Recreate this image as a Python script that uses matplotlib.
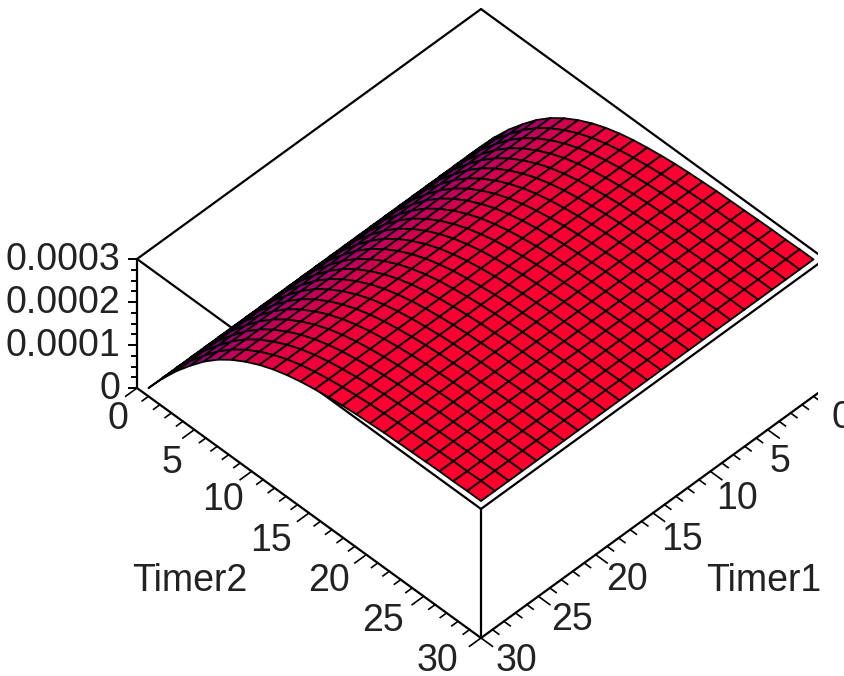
import matplotlib
matplotlib.use("Agg")
import matplotlib.pyplot as plt
from mpl_toolkits.mplot3d import proj3d
import numpy as np

plt.rcParams['font.family'] = ['Liberation Sans Narrow', 'Liberation Sans', 'DejaVu Sans']

# height of the surface along Timer2, it does not change along Timer1
timer_grid = [0.5, 1.71, 2.92, 4.13, 5.33, 6.54, 7.75, 8.96, 10.17, 11.38, 12.58, 13.79, 15.0,
              16.21, 17.42, 18.63, 19.83, 21.04, 22.25, 23.46, 24.67, 25.88, 27.08, 28.29, 29.5]
height = [0.0, 0.45, 0.86, 1.22, 1.55, 1.83, 2.06, 2.25, 2.41, 2.54, 2.64, 2.72, 2.78,
          2.83, 2.87, 2.90, 2.92, 2.94, 2.95, 2.96, 2.97, 2.98, 2.98, 2.99, 2.99]
timer_ticks = [0, 5, 10, 15, 20, 25, 30]
z_ticks = [0, 0.0001, 0.0002, 0.0003]
z_labels = ['0', '0.0001', '0.0002', '0.0003']

# label offsets from the tick on the axis, in pixels
timer2_shift = [(-19, 31), (-22, 33), (-29, 29), (-38, 28), (-37, 26), (-41, 25), (-44, 23)]
timer1_shift = [(17, 30), (12, 32), (27, 28), (29, 27), (31, 25), (34, 24), (35, 23)]

W, H = 844, 676
ZTOP = 0.0003
flat = np.array([255, 0, 45]) / 255
steep = np.array([105, 0, 150]) / 255

fig = plt.figure(figsize=(W / 100, H / 100), dpi=100)
ax = fig.add_axes([0, 0, 1, 1], projection='3d', proj_type='ortho', computed_zorder=False)
ax.view_init(elev=46.6, azim=45)
ax.set_box_aspect((1, 1, 0.386))
ax.set_xlim(0, 30)
ax.set_ylim(0, 30)
ax.set_zlim(0, ZTOP)
ax.set_axis_off()


def to_px(x, y, z):
    xs, ys, _ = proj3d.proj_transform(x, y, z, ax.get_proj())
    px, py = ax.transData.transform((xs, ys))
    return px, H - py


# fit the box to the place it has in the picture
side = 800
ax.set_position([0, 0, side / W, side / H])
fig.canvas.draw()
left = to_px(30, 0, ZTOP)
right = to_px(0, 30, ZTOP)
side = side * 688 / (right[0] - left[0])
ax.set_position([0, 0, side / W, side / H])
fig.canvas.draw()
left = to_px(30, 0, ZTOP)
right = to_px(0, 30, ZTOP)
dx = 481 - (left[0] + right[0]) / 2
dy = 259 - (left[1] + right[1]) / 2
ax.set_position([dx / W, -dy / H, side / W, side / H])
fig.canvas.draw()

box = dict(color='black', lw=1.6, zorder=1, solid_capstyle='round')
for a, b in [((30, 0), (0, 0)), ((0, 0), (0, 30)), ((0, 30), (30, 30)), ((30, 30), (30, 0))]:
    ax.plot([a[0], b[0]], [a[1], b[1]], [ZTOP, ZTOP], **box)
for c in [(30, 0), (0, 30), (30, 30)]:
    ax.plot([c[0], c[0]], [c[1], c[1]], [0, ZTOP], **box)
ax.plot([30, 30], [0, 30], [0, 0], **box)
ax.plot([0, 30], [30, 30], [0, 0], **box)

# ticks on the two floor axes and on the height axis
for t in range(0, 31):
    ln = 1.0 if t % 5 == 0 else 0.55
    ax.plot([30, 30 + ln], [t, t], [0, 0], color='black', lw=1.2, zorder=1)
    ax.plot([t, t], [30, 30 + ln], [0, 0], color='black', lw=1.2, zorder=1)
for z in np.linspace(0, ZTOP, 13):
    ln = 0.36 if round(z / ZTOP * 12) % 4 == 0 else 0.2
    ax.plot([30, 30 + ln], [0, -ln], [z, z], color='black', lw=1.4, zorder=1)

# surface
T = np.array(timer_grid)
Z = np.array(height) * 1e-4
X, Y = np.meshgrid(T, T, indexing='ij')
ZZ = np.tile(Z, (len(T), 1))
slope = np.diff(Z) / np.diff(Z).max()
colors = np.zeros((len(T) - 1, len(T) - 1, 3))
for j, s in enumerate(slope):
    colors[:, j] = flat + (steep - flat) * s ** 1.3
ax.plot_surface(X, Y, ZZ, rstride=1, cstride=1, facecolors=colors, shade=False,
                edgecolor='black', linewidth=1.3, antialiased=True, zorder=2)

# text
fs = 27


def label(x, y, z, sx, sy, txt, ha='center'):
    px, py = to_px(x, y, z)
    ax.annotate(txt, xy=(px, H - py), xycoords='figure pixels', xytext=(sx, -sy),
                textcoords='offset pixels', ha=ha, va='center', fontsize=fs, color='#222222',
                annotation_clip=False)


for t, s in zip(timer_ticks, timer2_shift):
    label(30, t, 0, s[0], s[1], str(t))
for t, s in zip(timer_ticks, timer1_shift):
    label(t, 30, 0, s[0], s[1], str(t))
for z, txt in zip(z_ticks, z_labels):
    label(30, 0, z, -17, 1, txt, ha='right')
label(30, 15, 0, -119, 68, 'Timer2')
label(15, 30, 0, 111, 68, 'Timer1')

fig.savefig('out.png', dpi=100, facecolor='white')
